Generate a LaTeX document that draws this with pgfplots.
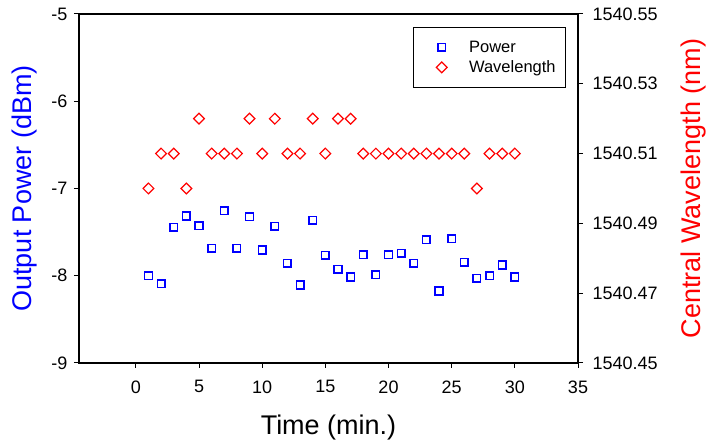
\documentclass[border=0pt]{standalone}
\usepackage{fontspec}
\setmainfont{Liberation Sans}
\usepackage{pgfplots}
\pgfplotsset{compat=1.18}

\pgfplotsset{
  common/.style={
    scale only axis, width=499pt, height=349pt,
    xmin=-4.5, xmax=35,
    /pgf/number format/assume math mode=true,
    tick label style={font=\fontsize{18}{20}\selectfont},
    tick align=outside, major tick length=5pt,
    every tick/.style={black, line width=1pt},
    axis line style={line width=1.6pt},
  },
  powerstyle/.style={only marks, color=blue, mark=square, mark size=3.8pt,
    mark options={draw=blue, solid, line width=1.5pt}},
  wavestyle/.style={only marks, color=red, mark=square, mark size=3.8pt,
    mark options={draw=red, solid, rotate=45, line width=1.2pt}},
}

\begin{document}
\begin{tikzpicture}
\useasboundingbox (-79pt,-83pt) rectangle (628pt,363pt);
\begin{axis}[
  common,
  ymin=-9, ymax=-5,
  xtick={0,5,...,35}, ytick={-9,-8,-7,-6,-5},
  xtick pos=bottom, ytick pos=left,
  xticklabel shift=9pt, yticklabel shift=3pt,
  xlabel={Time (min.)},
  xlabel style={at={(axis description cs:0.5,-0.186)}, anchor=center, font=\fontsize{27}{30}\selectfont},
  ylabel={Output Power (dBm)},
  ylabel style={at={(axis description cs:-0.110,0.5)}, anchor=center, font=\fontsize{27}{30}\selectfont, text=blue},
]
\addplot[powerstyle] coordinates {
(1,-8.00)(2,-8.09)(3,-7.445)(4,-7.315)(5,-7.426)(6,-7.686)(7,-7.254)(8,-7.686)
(9,-7.323)(10,-7.705)(11,-7.434)(12,-7.858)(13,-8.106)(14,-7.365)(15,-7.766)
(16,-7.926)(17,-8.014)(18,-7.758)(19,-7.988)(20,-7.758)(21,-7.743)(22,-7.858)
(23,-7.586)(24,-8.175)(25,-7.575)(26,-7.846)(27,-8.03)(28,-8.00)(29,-7.877)(30,-8.014)
};
\end{axis}
\begin{axis}[
  common,
  axis x line=none, axis y line*=right,
  ymin=1540.45, ymax=1540.55,
  ytick={1540.45,1540.47,1540.49,1540.51,1540.53,1540.55},
  yticklabel style={/pgf/number format/.cd, fixed, fixed zerofill, precision=2, 1000 sep={}},
  yticklabel shift=6pt,
  ylabel={Central Wavelength (nm)},
  ylabel style={at={(axis description cs:1.2305,0.5)}, anchor=center, font=\fontsize{27}{30}\selectfont, text=red},
  legend style={at={(0.976,0.963)}, anchor=north east, draw=black, line width=0.8pt,
    font=\fontsize{16.5}{18}\selectfont, row sep=3pt, column sep=7pt,
    inner xsep=8pt, inner ysep=11.5pt, nodes={inner sep=2pt}},
  legend cell align=left,
  legend image code/.code={
    \path (-2pt,0pt) (36pt,0pt);
    \draw[mark repeat=2,mark phase=2] plot coordinates {(0pt,0pt)(18pt,0pt)(36pt,0pt)};},
]
\addlegendimage{powerstyle}
\addplot[wavestyle] coordinates {
(1,1540.50)(2,1540.51)(3,1540.51)(4,1540.50)(5,1540.52)(6,1540.51)(7,1540.51)(8,1540.51)
(9,1540.52)(10,1540.51)(11,1540.52)(12,1540.51)(13,1540.51)(14,1540.52)(15,1540.51)
(16,1540.52)(17,1540.52)(18,1540.51)(19,1540.51)(20,1540.51)(21,1540.51)(22,1540.51)
(23,1540.51)(24,1540.51)(25,1540.51)(26,1540.51)(27,1540.50)(28,1540.51)(29,1540.51)(30,1540.51)
};
\legend{Power, Wavelength}
\end{axis}
\end{tikzpicture}
\end{document}
